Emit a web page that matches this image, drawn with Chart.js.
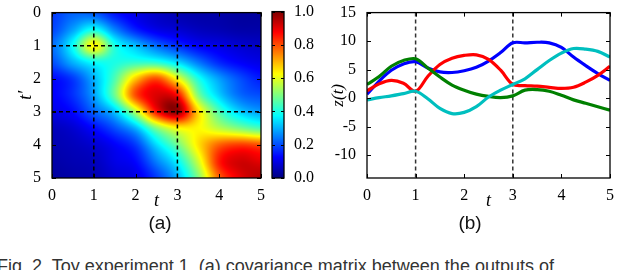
<!DOCTYPE html>
<html>
<head>
<meta charset="utf-8">
<script src="https://cdn.jsdelivr.net/npm/chart.js@4.4.0/dist/chart.umd.min.js"></script>
<style>
  body { margin: 0; background: #fff; width: 640px; height: 270px; overflow: hidden; position: relative; }
  canvas { position: absolute; top: 0; }
  .sub { position: absolute; top: 212px; font-family: "Liberation Sans", sans-serif; font-size: 19px; color: #111; transform: translateX(-50%); }
  #fig { position: absolute; left: -3px; top: 256px; font-family: "Liberation Sans", sans-serif; font-size: 18px; color: #333; white-space: nowrap; }
</style>
</head>
<body>
<canvas id="heat" width="265" height="215" style="left:0"></canvas>
<canvas id="cbar" width="55" height="215" style="left:265px"></canvas>
<canvas id="lines" width="320" height="215" style="left:320px"></canvas>
<div class="sub" style="left:160px">(a)</div>
<div class="sub" style="left:470px">(b)</div>
<div id="fig">Fig. 2. Toy experiment 1. (a) covariance matrix between the outputs of</div>
<script>
// --- panel (a): covariance grid, rows are t' = 0, 0.5, ... 5; columns t = 0, 0.5, ... 5
const gridT = [0, 0.5, 1, 1.5, 2, 2.5, 3, 3.5, 4, 4.5, 5];
const cov00 = [0.18, 0.22, 0.21, 0.14, 0.10, 0.07, 0.05, 0.04, 0.04, 0.03, 0.03];
const cov05 = [0.19, 0.28, 0.38, 0.25, 0.15, 0.10, 0.08, 0.06, 0.05, 0.04, 0.04];
const cov10 = [0.23, 0.38, 0.63, 0.40, 0.31, 0.23, 0.17, 0.12, 0.10, 0.08, 0.07];
const cov15 = [0.20, 0.30, 0.38, 0.40, 0.42, 0.41, 0.34, 0.24, 0.16, 0.12, 0.10];
const cov20 = [0.13, 0.18, 0.30, 0.45, 0.68, 0.80, 0.62, 0.40, 0.28, 0.20, 0.15];
const cov25 = [0.12, 0.17, 0.28, 0.48, 0.80, 0.91, 0.87, 0.50, 0.33, 0.23, 0.20];
const cov30 = [0.10, 0.13, 0.22, 0.32, 0.55, 0.86, 0.97, 0.66, 0.45, 0.33, 0.28];
const cov35 = [0.06, 0.08, 0.13, 0.20, 0.30, 0.50, 0.62, 0.63, 0.56, 0.50, 0.45];
const cov40 = [0.05, 0.06, 0.08, 0.12, 0.18, 0.34, 0.48, 0.65, 0.78, 0.82, 0.80];
const cov45 = [0.04, 0.05, 0.06, 0.10, 0.13, 0.25, 0.37, 0.58, 0.85, 0.92, 0.90];
const cov50 = [0.03, 0.04, 0.05, 0.08, 0.10, 0.18, 0.30, 0.50, 0.78, 0.90, 0.95];
const covRows = [cov00, cov05, cov10, cov15, cov20, cov25, cov30, cov35, cov40, cov45, cov50];
const heatTicks = [0, 1, 2, 3, 4, 5];
const cbarTicks = [0, 0.2, 0.4, 0.6, 0.8, 1.0];
const dashT = [1, 3];

// --- panel (b): four output curves z(t)
const tVals = [0, 0.25, 0.5, 0.75, 1, 1.25, 1.5, 1.75, 2, 2.25, 2.5, 2.75, 3, 3.25, 3.5, 3.75, 4, 4.25, 4.5, 4.75, 5];
const zBlue  = [0.7, 3.0, 4.9, 6.0, 6.4, 5.3, 4.6, 4.5, 4.8, 5.4, 6.5, 8.0, 9.7, 9.7, 9.8, 9.7, 8.9, 7.2, 5.7, 4.3, 3.1];
const zRed   = [1.3, 2.5, 3.1, 2.6, 1.2, 3.8, 5.9, 7.0, 7.5, 7.6, 6.8, 4.9, 2.4, 2.2, 2.1, 1.9, 1.7, 1.9, 2.8, 4.0, 5.6];
const zGreen = [2.4, 3.8, 5.6, 6.6, 6.9, 5.3, 3.7, 2.3, 1.4, 0.7, 0.3, 0.1, 0.4, 1.4, 1.5, 1.2, 0.5, -0.3, -0.9, -1.5, -2.1];
const zCyan  = [-0.3, 0.1, 0.4, 0.8, 1.2, -0.1, -1.8, -2.7, -2.5, -1.5, 0.2, 1.4, 2.4, 3.4, 5.0, 6.6, 7.9, 8.7, 8.6, 8.2, 7.2];
const zTicks = [-10, -5, 0, 5, 10, 15];
const xTicksB = [0, 1, 2, 3, 4, 5];

Chart.defaults.font.family = "'Liberation Serif', serif";
Chart.defaults.font.size = 16;
Chart.defaults.color = '#000';
Chart.defaults.animation = false;
Chart.defaults.plugins.legend.display = false;
Chart.defaults.plugins.tooltip.enabled = false;

function jet(v) {
  const c = x => Math.max(0, Math.min(1, x));
  return [c(1.5 - Math.abs(4 * v - 3)), c(1.5 - Math.abs(4 * v - 2)), c(1.5 - Math.abs(4 * v - 1))].map(u => Math.round(u * 255));
}

// smooth (Catmull-Rom) look-up in the grid, only for drawing between the read values
function cr(p0, p1, p2, p3, u) {
  return p1 + 0.5 * u * (p2 - p0 + u * (2 * p0 - 5 * p1 + 4 * p2 - p3 + u * (3 * (p1 - p2) + p3 - p0)));
}
function covAt(t, tp) {
  const step = gridT[1] - gridT[0], n = gridT.length - 1;
  const fx = Math.max(0, Math.min(n, (t - gridT[0]) / step));
  const fy = Math.max(0, Math.min(n, (tp - gridT[0]) / step));
  const i = Math.min(n - 1, Math.floor(fx)), j = Math.min(n - 1, Math.floor(fy));
  const u = fx - i, w = fy - j;
  const ix = k => Math.max(0, Math.min(n, k));
  const rowVal = r => { const row = covRows[ix(r)]; return cr(row[ix(i - 1)], row[i], row[i + 1], row[ix(i + 2)], u); };
  const v = cr(rowVal(j - 1), rowVal(j), rowVal(j + 1), rowVal(j + 2), w);
  return Math.max(0, Math.min(1, v));
}

function frameAndTicks(chart, xt, yt, len) {
  const { ctx, chartArea: a, scales: { x, y } } = chart;
  ctx.save();
  ctx.strokeStyle = '#000';
  ctx.lineWidth = 1;
  ctx.beginPath();
  (xt || []).forEach(v => {
    const px = Math.round(x.getPixelForValue(v)) + 0.5;
    ctx.moveTo(px, a.bottom); ctx.lineTo(px, a.bottom - len);
    ctx.moveTo(px, a.top); ctx.lineTo(px, a.top + len);
  });
  (yt || []).forEach(v => {
    const py = Math.round(y.getPixelForValue(v)) + 0.5;
    ctx.moveTo(a.left, py); ctx.lineTo(a.left + len, py);
    ctx.moveTo(a.right, py); ctx.lineTo(a.right - len, py);
  });
  ctx.stroke();
  ctx.lineWidth = 1.3;
  ctx.strokeRect(a.left, a.top, a.right - a.left, a.bottom - a.top);
  ctx.restore();
}

function dashLines(chart, xs, ys, color) {
  const { ctx, chartArea: a, scales: { x, y } } = chart;
  ctx.save();
  ctx.strokeStyle = color;
  ctx.lineWidth = 1.5;
  ctx.setLineDash([4, 3]);
  ctx.beginPath();
  xs.forEach(v => { const px = x.getPixelForValue(v); ctx.moveTo(px, a.top); ctx.lineTo(px, a.bottom); });
  ys.forEach(v => { const py = y.getPixelForValue(v); ctx.moveTo(a.left, py); ctx.lineTo(a.right, py); });
  ctx.stroke();
  ctx.restore();
}

const heatPlugin = {
  id: 'heatmap',
  beforeDatasetsDraw(chart) {
    const { ctx, chartArea: a, scales: { x, y } } = chart;
    const L = Math.round(a.left), T = Math.round(a.top);
    const W = Math.round(a.right) - L, H = Math.round(a.bottom) - T;
    const img = ctx.createImageData(W, H);
    for (let j = 0; j < H; j++) {
      const tp = y.getValueForPixel(T + j + 0.5);
      for (let i = 0; i < W; i++) {
        const c = jet(covAt(x.getValueForPixel(L + i + 0.5), tp));
        const k = (j * W + i) * 4;
        img.data[k] = c[0]; img.data[k + 1] = c[1]; img.data[k + 2] = c[2]; img.data[k + 3] = 255;
      }
    }
    ctx.putImageData(img, L, T);
  },
  afterDraw(chart) {
    dashLines(chart, dashT, dashT, '#000');
    frameAndTicks(chart, heatTicks, heatTicks, 4);
  }
};

new Chart(document.getElementById('heat'), {
  type: 'scatter',
  data: { datasets: [] },
  plugins: [heatPlugin],
  options: {
    responsive: false,
    layout: { padding: { top: 6, right: 2, left: 0, bottom: 0 } },
    scales: {
      x: {
        type: 'linear', min: 0, max: 5,
        grid: { display: false }, border: { display: false },
        afterBuildTicks: s => { s.ticks = heatTicks.map(v => ({ value: v })); },
        afterFit: s => { s.height = 37; },
        ticks: { padding: 0 },
        title: { display: true, text: 't', font: { style: 'italic', size: 18 }, padding: { top: 0, bottom: 3 } }
      },
      y: {
        type: 'linear', min: 0, max: 5, reverse: true,
        grid: { display: false }, border: { display: false },
        afterBuildTicks: s => { s.ticks = heatTicks.map(v => ({ value: v })); },
        afterFit: s => { s.width = 52; },
        ticks: { padding: 3 },
        title: { display: true, text: 't′', font: { style: 'italic', size: 18 }, padding: { top: 15, bottom: 0 } }
      }
    }
  }
});

const cbarPlugin = {
  id: 'colorbar',
  beforeDatasetsDraw(chart) {
    const { ctx, chartArea: a, scales: { y } } = chart;
    for (let py = Math.round(a.top); py < Math.round(a.bottom); py++) {
      const c = jet(y.getValueForPixel(py + 0.5));
      ctx.fillStyle = `rgb(${c[0]},${c[1]},${c[2]})`;
      ctx.fillRect(a.left, py, a.right - a.left, 1);
    }
  },
  afterDraw(chart) {
    const { ctx, chartArea: a, scales: { y } } = chart;
    ctx.save();
    ctx.strokeStyle = '#000';
    ctx.lineWidth = 1;
    ctx.beginPath();
    cbarTicks.forEach(v => {
      const py = Math.round(y.getPixelForValue(v)) + 0.5;
      ctx.moveTo(a.right, py); ctx.lineTo(a.right - 3, py);
      ctx.moveTo(a.left, py); ctx.lineTo(a.left + 3, py);
    });
    ctx.stroke();
    ctx.lineWidth = 1.3;
    ctx.strokeRect(a.left, a.top, a.right - a.left, a.bottom - a.top);
    ctx.restore();
  }
};

new Chart(document.getElementById('cbar'), {
  type: 'scatter',
  data: { datasets: [] },
  plugins: [cbarPlugin],
  options: {
    responsive: false,
    layout: { padding: { top: 6, right: 0, left: 7, bottom: 37 } },
    scales: {
      x: { type: 'linear', display: false, min: 0, max: 1 },
      y: {
        type: 'linear', position: 'right', min: 0, max: 1,
        grid: { display: false }, border: { display: false },
        afterBuildTicks: s => { s.ticks = cbarTicks.map(v => ({ value: v })); },
        afterFit: s => { s.width = 36; },
        ticks: { padding: 2, callback: v => v.toFixed(1) }
      }
    }
  }
});

const linePlugin = {
  id: 'lineframe',
  beforeDatasetsDraw(chart) { dashLines(chart, dashT, [], '#333'); },
  afterDraw(chart) { frameAndTicks(chart, xTicksB, zTicks, 4); }
};

const mk = (vals, color) => ({
  data: tVals.map((t, i) => ({ x: t, y: vals[i] })),
  borderColor: color, borderWidth: 3.2, pointRadius: 0, tension: 0.35, fill: false
});

new Chart(document.getElementById('lines'), {
  type: 'line',
  data: { datasets: [mk(zCyan, '#00bfbf'), mk(zGreen, '#008000'), mk(zRed, '#ff0000'), mk(zBlue, '#0000ff')] },
  plugins: [linePlugin],
  options: {
    responsive: false,
    layout: { padding: { top: 6, right: 30, left: 0, bottom: 0 } },
    scales: {
      x: {
        type: 'linear', min: 0, max: 5,
        grid: { display: false }, border: { display: false },
        afterBuildTicks: s => { s.ticks = xTicksB.map(v => ({ value: v })); },
        afterFit: s => { s.height = 37; },
        ticks: { padding: 0 },
        title: { display: true, text: 't', font: { style: 'italic', size: 18 }, padding: { top: 0, bottom: 3 } }
      },
      y: {
        type: 'linear', min: -14, max: 15,
        grid: { display: false }, border: { display: false },
        afterBuildTicks: s => { s.ticks = zTicks.map(v => ({ value: v })); },
        afterFit: s => { s.width = 47; },
        ticks: { padding: 3, callback: v => v < 0 ? '-' + Math.abs(v) : String(v) },
        title: { display: true, text: 'z(t)', font: { style: 'italic', size: 17 }, padding: { top: 8, bottom: 0 } }
      }
    }
  }
});
</script>
</body>
</html>
